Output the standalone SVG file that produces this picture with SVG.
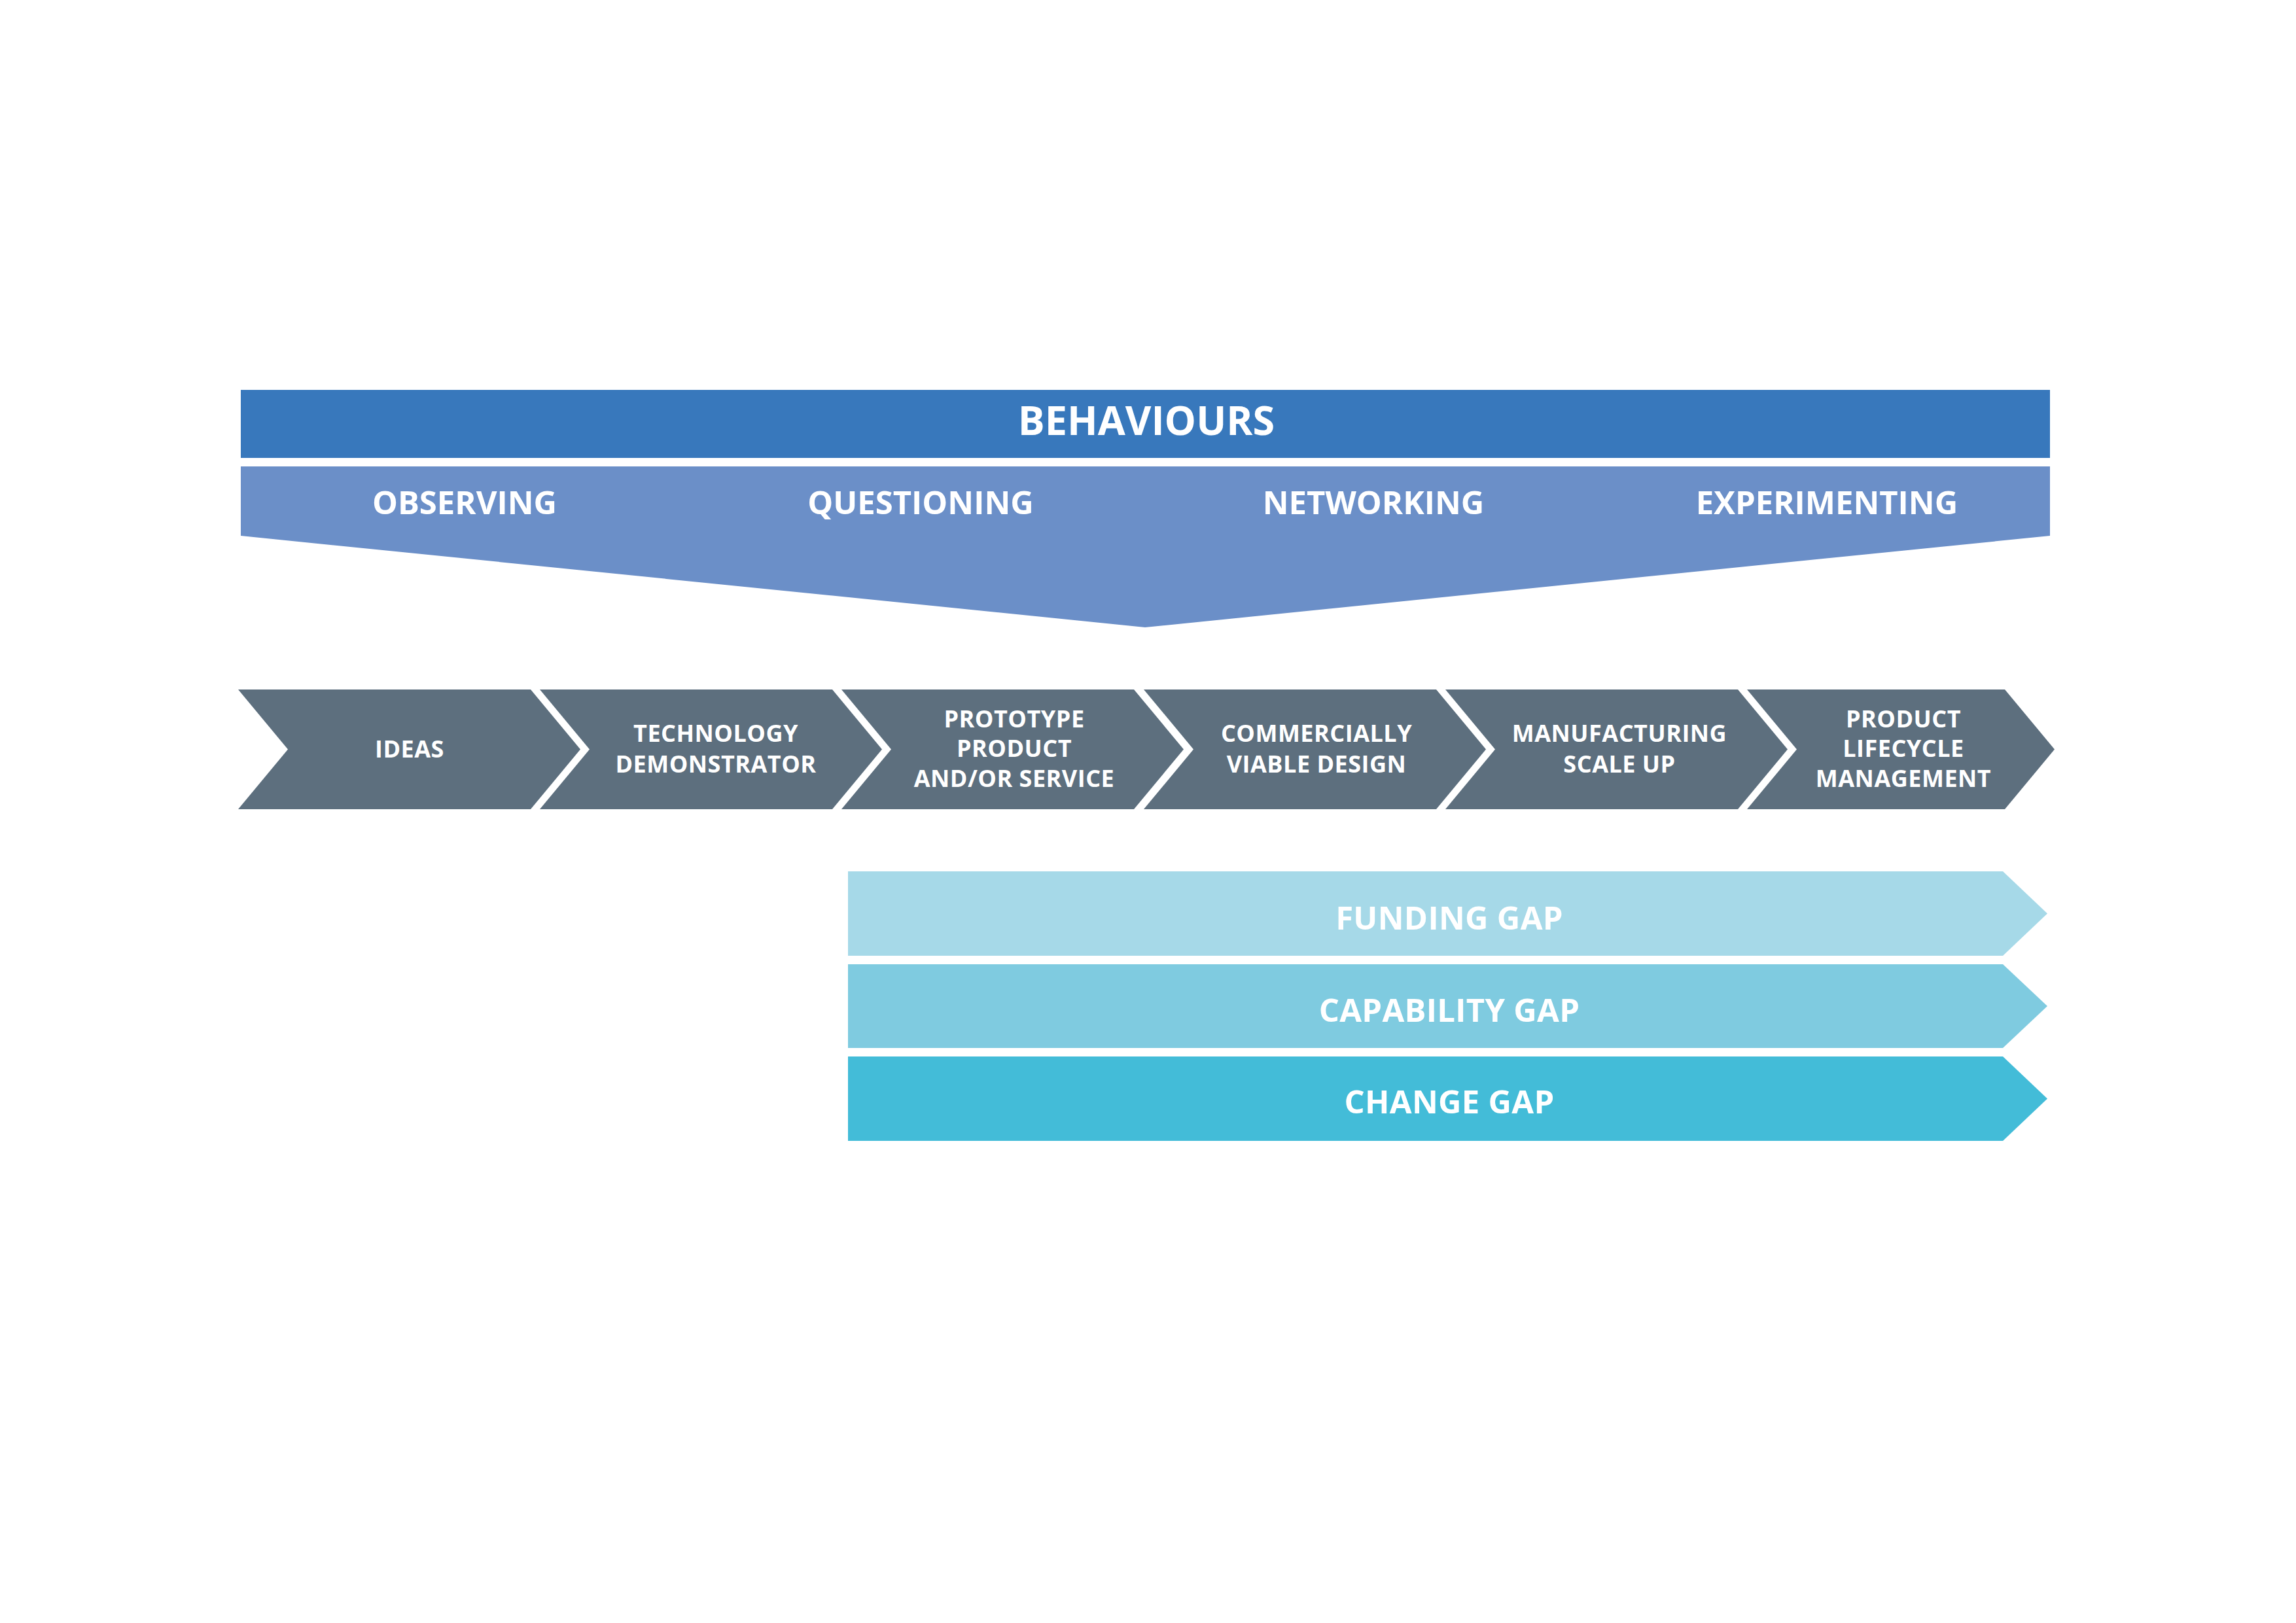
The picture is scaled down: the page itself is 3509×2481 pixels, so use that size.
<svg xmlns="http://www.w3.org/2000/svg" width="3509" height="2481" viewBox="0 0 3509 2481">
<style>
text{font-family:"Open Sans","Liberation Sans",sans-serif;font-weight:700;fill:#ffffff;text-anchor:middle}
.head{font-size:61px;letter-spacing:0px}
.beh{font-size:49px;letter-spacing:0px}
.stage{font-size:36px;letter-spacing:0.5px}
.gap{font-size:49px;letter-spacing:0.3px}
.chev{fill:#5d6f7e}
</style>
<rect width="3509" height="2481" fill="#ffffff"/>
<g id="behaviours">
<rect x="368" y="596" width="2765" height="104" fill="#3878bc"/>
<text class="head" x="1752" y="665">BEHAVIOURS</text>
</g>
<g id="behaviour-band">
<polygon points="368,713 3133,713 3133,819 1750,959 368,819" fill="#6b8fc8"/>
<text class="beh" x="710" y="786">OBSERVING</text>
<text class="beh" x="1407" y="786">QUESTIONING</text>
<text class="beh" x="2099" y="786">NETWORKING</text>
<text class="beh" x="2792" y="786">EXPERIMENTING</text>
</g>
<g id="stage-ideas">
<polygon class="chev" points="364,1054 811,1054 887,1145.5 811,1237 364,1237 440,1145.5"/>
<text class="stage" x="626" y="1158">IDEAS</text>
</g>
<g id="stage-technology">
<polygon class="chev" points="825,1054 1272,1054 1348,1145.5 1272,1237 825,1237 901,1145.5"/>
<text class="stage" x="1094" y="1134">TECHNOLOGY</text>
<text class="stage" x="1094" y="1181">DEMONSTRATOR</text>
</g>
<g id="stage-prototype">
<polygon class="chev" points="1286,1054 1733,1054 1809,1145.5 1733,1237 1286,1237 1362,1145.5"/>
<text class="stage" x="1550" y="1112">PROTOTYPE</text>
<text class="stage" x="1550" y="1157">PRODUCT</text>
<text class="stage" x="1550" y="1203">AND/OR SERVICE</text>
</g>
<g id="stage-commercial">
<polygon class="chev" points="1748,1054 2195,1054 2271,1145.5 2195,1237 1748,1237 1824,1145.5"/>
<text class="stage" x="2012" y="1134">COMMERCIALLY</text>
<text class="stage" x="2012" y="1181">VIABLE DESIGN</text>
</g>
<g id="stage-manufacturing">
<polygon class="chev" points="2209,1054 2656,1054 2732,1145.5 2656,1237 2209,1237 2285,1145.5"/>
<text class="stage" x="2475" y="1134">MANUFACTURING</text>
<text class="stage" x="2475" y="1181">SCALE UP</text>
</g>
<g id="stage-lifecycle">
<polygon class="chev" points="2670,1054 3064,1054 3140,1145.5 3064,1237 2670,1237 2746,1145.5"/>
<text class="stage" x="2909" y="1112">PRODUCT</text>
<text class="stage" x="2909" y="1157">LIFECYCLE</text>
<text class="stage" x="2909" y="1203">MANAGEMENT</text>
</g>
<g id="funding-gap">
<polygon points="1296,1332 3061,1332 3129,1396.5 3061,1461 1296,1461" fill="#a6d9e8"/>
<text class="gap" x="2215" y="1421">FUNDING GAP</text>
</g>
<g id="capability-gap">
<polygon points="1296,1474 3061,1474 3129,1538 3061,1602 1296,1602" fill="#7fcbe0"/>
<text class="gap" x="2215" y="1562">CAPABILITY GAP</text>
</g>
<g id="change-gap">
<polygon points="1296,1615 3061,1615 3129,1679.5 3061,1744 1296,1744" fill="#43bcd8"/>
<text class="gap" x="2215" y="1702">CHANGE GAP</text>
</g>
</svg>
